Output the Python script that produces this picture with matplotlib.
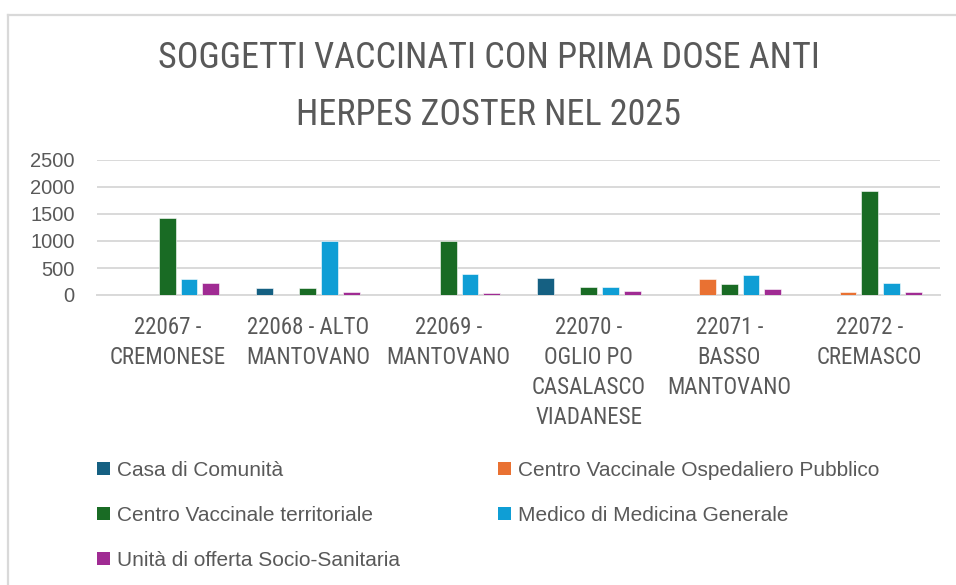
import numpy as np
import matplotlib
matplotlib.use("Agg")
import matplotlib.pyplot as plt
from matplotlib import font_manager
from matplotlib.patches import Patch
from matplotlib.lines import Line2D

# data
categories = [
    "22067 -\nCREMONESE",
    "22068 - ALTO\nMANTOVANO",
    "22069 -\nMANTOVANO",
    "22070 -\nOGLIO PO\nCASALASCO\nVIADANESE",
    "22071 -\nBASSO\nMANTOVANO",
    "22072 -\nCREMASCO",
]
series_names = [
    "Casa di Comunità",
    "Centro Vaccinale Ospedaliero Pubblico",
    "Centro Vaccinale territoriale",
    "Medico di Medicina Generale",
    "Unità di offerta Socio-Sanitaria",
]
casa_comunita = [0, 130, 0, 320, 0, 0]
centro_ospedaliero = [0, 0, 0, 0, 300, 60]
centro_territoriale = [1430, 130, 1000, 150, 200, 1930]
medico_mg = [300, 1000, 390, 150, 370, 220]
unita_socio = [220, 60, 40, 80, 110, 55]
yticks = [0, 500, 1000, 1500, 2000, 2500]

COLORS = ["#156082", "#E97132", "#196B24", "#0F9ED5", "#A02B93"]
TEXT = "#595959"
GRID = "#D9D9D9"

installed = {f.name for f in font_manager.fontManager.ttflist}
NARROW = next((f for f in ["Liberation Sans Narrow", "Roboto Condensed", "Open Sans Condensed",
                           "DejaVu Sans Condensed"] if f in installed), "DejaVu Sans")
NUMFONT = "Liberation Sans" if "Liberation Sans" in installed else "DejaVu Sans"

fig = plt.figure(figsize=(9.56, 5.85), dpi=100)
ax = fig.add_axes([97 / 956, 1 - 295 / 585, 843 / 956, 135 / 585])

# chart frame (top and left edges visible)
fig.add_artist(Line2D([8 / 956, 1.0], [1 - 15 / 585, 1 - 15 / 585], color=GRID, lw=1.6,
                      transform=fig.transFigure))
fig.add_artist(Line2D([8 / 956, 8 / 956], [1 - 15 / 585, 0.0], color=GRID, lw=1.6,
                      transform=fig.transFigure))

all_series = [casa_comunita, centro_ospedaliero, centro_territoriale, medico_mg, unita_socio]
x = np.arange(len(categories))
step = 0.155
for i, vals in enumerate(all_series):
    ax.bar(x + (i - 2) * step, vals, width=0.12, color=COLORS[i], zorder=3,
           edgecolor="white", linewidth=0.4)

ax.set_xlim(-0.5, len(categories) - 0.5)
ax.set_ylim(0, 2500)
ax.set_yticks(yticks)
ax.set_yticklabels([str(v) for v in yticks], fontsize=14.5, color=TEXT, family=NUMFONT)
ax.yaxis.grid(True, color=GRID, lw=1.4, zorder=0)
ax.set_xticks(x)
ax.set_xticklabels(categories, fontsize=16.5, color=TEXT, family=NARROW, linespacing=1.4)
ax.tick_params(axis="y", length=0, pad=16)
ax.tick_params(axis="x", length=0, pad=15)
for s in ["top", "right", "left"]:
    ax.spines[s].set_visible(False)
ax.spines["bottom"].set_color(GRID)
ax.spines["bottom"].set_linewidth(1.4)

fig.text(489 / 956, 1 - 58 / 585, "SOGGETTI VACCINATI CON PRIMA DOSE ANTI", ha="center", va="center",
         fontsize=26, color=TEXT, family=NARROW)
fig.text(489 / 956, 1 - 115 / 585, "HERPES ZOSTER NEL 2025", ha="center", va="center",
         fontsize=26, color=TEXT, family=NARROW)

# legend filled row by row like the reference (matplotlib fills column by column)
order = [0, 2, 4, 1, 3]
handles = [Patch(facecolor=COLORS[k], edgecolor="none") for k in order]
labels = [series_names[k] for k in order]
fig.legend(handles, labels, ncol=2, loc="upper left",
           bbox_to_anchor=(97 / 956, 1 - 461 / 585), frameon=False,
           borderpad=0, borderaxespad=0,
           prop={"family": NUMFONT, "size": 15}, labelcolor=TEXT,
           handlelength=0.62, handleheight=0.62, handletextpad=0.34,
           labelspacing=1.24, columnspacing=4.7)

fig.savefig("out.png", dpi=100)
